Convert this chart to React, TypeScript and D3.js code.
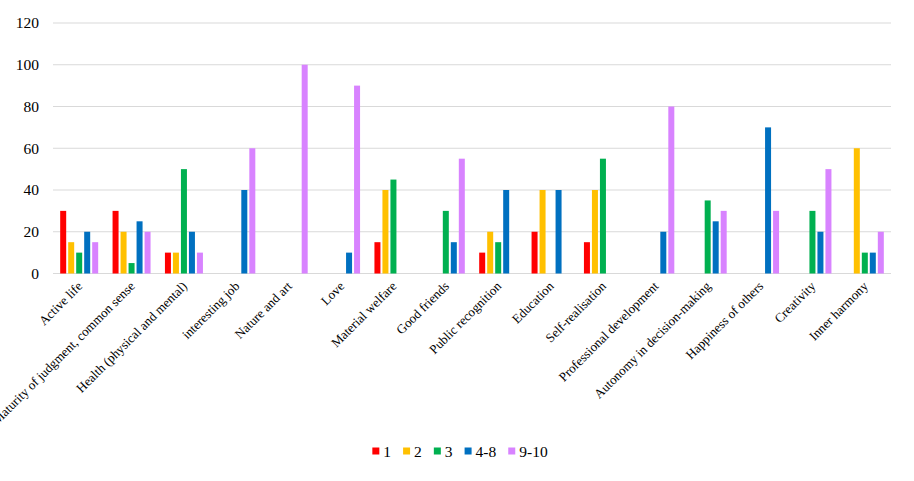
import React from "react";
import * as d3 from "d3";

const categories = [
  "Active life",
  "Maturity of judgment, common sense",
  "Health (physical and mental)",
  "interesting job",
  "Nature and art",
  "Love",
  "Material welfare",
  "Good friends",
  "Public recognition",
  "Education",
  "Self-realisation",
  "Professional development",
  "Autonomy in decision-making",
  "Happiness of others",
  "Creativity",
  "Inner harmony",
];

const seriesNames = ["1", "2", "3", "4-8", "9-10"];
const seriesColors = ["#FF0000", "#FFC000", "#00B050", "#0070C0", "#D883FF"];

const s1 = [30, 30, 10, 0, 0, 0, 15, 0, 10, 20, 15, 0, 0, 0, 0, 0];
const s2 = [15, 20, 10, 0, 0, 0, 40, 0, 20, 40, 40, 0, 0, 0, 0, 60];
const s3 = [10, 5, 50, 0, 0, 0, 45, 30, 15, 0, 55, 0, 35, 0, 30, 10];
const s48 = [20, 25, 20, 40, 0, 10, 0, 15, 40, 40, 0, 20, 25, 70, 20, 10];
const s910 = [15, 20, 10, 60, 100, 90, 0, 55, 0, 0, 0, 80, 30, 30, 50, 20];
const seriesValues = [s1, s2, s3, s48, s910];

const yTicks = [0, 20, 40, 60, 80, 100, 120];

const W = 914;
const H = 481;
const left = 53;
const right = 891;
const top = 23;
const bottom = 273.5;
const FONT = "Liberation Serif, Times New Roman, serif";

export default function App() {
  const x0 = d3.scaleBand<string>().domain(categories).range([left, right]).paddingInner(0).paddingOuter(0);
  const groupWidth = 40;
  const x1 = d3.scaleBand<string>().domain(seriesNames).range([0, groupWidth]).padding(0);
  const barW = 6;
  const y = d3.scaleLinear().domain([0, 120]).range([bottom, top]);

  // legend layout
  const legFont = 15.5;
  const charW = (s: string) =>
    s.split("").reduce((a, c) => a + (c === "-" ? 0.333 : 0.5) * legFont, 0);
  const sq = 7;
  const sqGap = 4;
  const itemGap = 12;
  const widths = seriesNames.map((n) => sq + sqGap + charW(n));
  const total = widths.reduce((a, b) => a + b, 0) + itemGap * (seriesNames.length - 1);
  let cursor = 460 - total / 2;
  const legendItems = seriesNames.map((n, i) => {
    const xPos = cursor;
    cursor += widths[i] + itemGap;
    return { n, x: xPos, color: seriesColors[i] };
  });
  const legendY = 452;

  return (
    <svg
      width={W}
      height={H}
      style={{ position: "absolute", left: 0, top: 0, background: "#fff" }}
    >
      {yTicks.map((t) => (
        <g key={t}>
          <line x1={left} x2={right} y1={y(t)} y2={y(t)} stroke="#D9D9D9" strokeWidth={1} />
          <text x={39} y={y(t)} dy="0.35em" textAnchor="end" fontSize={15.5} fill="#000" fontFamily={FONT}>
            {t}
          </text>
        </g>
      ))}
      {categories.map((c, ci) => {
        const cx = (x0(c) as number) + x0.bandwidth() / 2;
        const gx = cx - groupWidth / 2;
        return (
          <g key={c}>
            {seriesValues.map((vals, si) => {
              const v = vals[ci];
              if (!v) return null;
              return (
                <rect
                  key={si}
                  x={gx + (x1(seriesNames[si]) as number) + (x1.bandwidth() - barW) / 2}
                  y={y(v)}
                  width={barW}
                  height={y(0) - y(v)}
                  fill={seriesColors[si]}
                />
              );
            })}
            <text
              transform={`translate(${cx + 4},${287}) rotate(-45)`}
              textAnchor="end"
              fontSize={13}
              fill="#000"
              fontFamily={FONT}
            >
              {c}
            </text>
          </g>
        );
      })}
      {legendItems.map((it) => (
        <g key={it.n}>
          <rect x={it.x} y={legendY - sq / 2 - 1} width={sq} height={sq} fill={it.color} />
          <text x={it.x + sq + sqGap} y={legendY} dy="0.32em" fontSize={legFont} fill="#000" fontFamily={FONT}>
            {it.n}
          </text>
        </g>
      ))}
    </svg>
  );
}
